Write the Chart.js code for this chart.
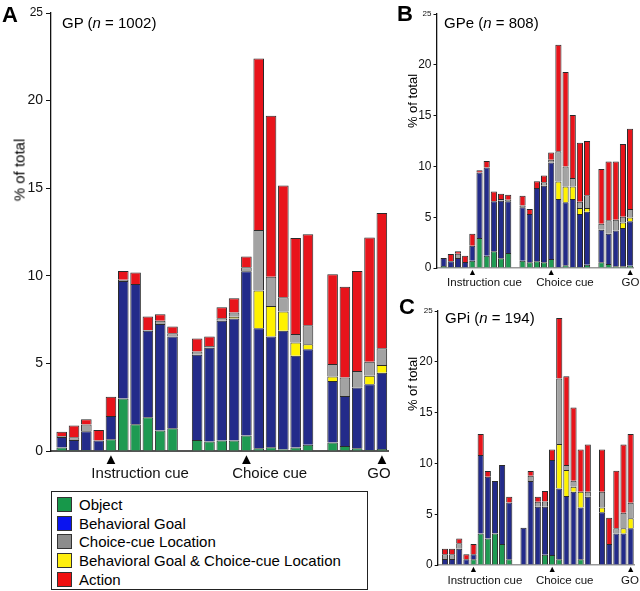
<!DOCTYPE html>
<html lang="en">
<head>
<meta charset="UTF-8">
<meta name="viewport" content="width=device-width, initial-scale=1.0">
<title>GP / GPe / GPi selectivity over time</title>
<script src="https://cdn.jsdelivr.net/npm/chart.js@4.4.3/dist/chart.umd.min.js"></script>
<style>
  body { margin: 0; background: #fff; font-family: 'Liberation Sans', Arial, sans-serif; color: #000; }
  #fig { position: relative; width: 640px; height: 591px; overflow: hidden; }
  canvas { position: absolute; }
  #cA { left: 0; top: 0; }
  #cB { left: 395px; top: 0; }
  #cC { left: 395px; top: 296px; }
  .letter { position: absolute; font-weight: bold; font-size: 22px; line-height: 1; }
  .sub { position: absolute; font-size: 15px; line-height: 1; white-space: nowrap; }
  .ytitle { position: absolute; font-size: 15px; line-height: 1; white-space: nowrap; color: #000; transform: translate(-50%, -50%) rotate(-90deg); }
  .ytitle.small { font-size: 13px; }
  #legend { position: absolute; left: 51px; top: 491px; width: 317px; height: 99px; border: 1.5px solid #222; box-sizing: border-box; padding-top: 3px; }
  .row { height: 18.8px; display: flex; align-items: center; font-size: 15px; }
  .sw { width: 15px; height: 15px; border: 1px solid #333; margin-left: 5px; margin-right: 7px; box-sizing: border-box; }
</style>
</head>
<body>
<div id="fig">
  <canvas id="cA" width="395" height="486"></canvas>
  <canvas id="cB" width="245" height="290"></canvas>
  <canvas id="cC" width="245" height="295"></canvas>

  <div class="letter" style="left:2px;top:4px">A</div>
  <div class="sub" style="left:62px;top:15px">GP (<i>n</i> = 1002)</div>
  <div class="ytitle" style="left:19px;top:170px">% of total</div>

  <div class="letter" style="left:397px;top:3px">B</div>
  <div class="sub" style="left:444px;top:15px">GPe (<i>n</i> = 808)</div>
  <div class="ytitle small" style="left:412px;top:101px">% of total</div>

  <div class="letter" style="left:399px;top:296px">C</div>
  <div class="sub" style="left:445px;top:310px">GPi (<i>n</i> = 194)</div>
  <div class="ytitle small" style="left:412px;top:384px">% of total</div>

  <div id="legend"></div>
</div>

<script>
  // categories, in legend order
  const categories = ['Object', 'Behavioral Goal', 'Choice-cue Location', 'Behavioral Goal & Choice-cue Location', 'Action'];
  const barColors = ['#1e9a52', '#232b8a', '#a3a3a3', '#fff200', '#e8141b'];
  const legendColors = ['#17984a', '#0a14f0', '#8c8c8c', '#ffef0f', '#f01010'];
  // yellow sits below gray in every stack
  const stackOrder = [0, 1, 3, 2, 4];

  // 25 time bins on 27 slots (slots 10 and 21 are the empty gaps)
  const binSlots = [0, 1, 2, 3, 4, 5, 6, 7, 8, 9, 11, 12, 13, 14, 15, 16, 17, 18, 19, 20, 22, 23, 24, 25, 26];
  const cueSlots = [4, 15, 26];
  const cueNames = ['Instruction cue', 'Choice cue', 'GO'];

  // GP (n = 1002), % of total
  const gpObject   = [0.2, 0.05, 0.05, 0, 0.67, 3.0, 1.53, 1.93, 1.17, 1.3, 0.63, 0.54, 0.6, 0.6, 0.88, 0.15, 0.22, 0.1, 0.2, 0.35, 0.48, 0.29, 0.15, 0.06, 0.12];
  const gpGoal     = [0.6, 0.58, 1.08, 0.6, 1.33, 6.7, 8.0, 4.93, 6.08, 5.23, 4.86, 5.36, 6.83, 6.96, 9.38, 6.86, 6.31, 6.77, 5.23, 5.46, 3.52, 2.85, 3.47, 3.75, 4.35];
  const gpLocation = [0.05, 0.16, 0.38, 0, 0, 0.07, 0, 0.05, 0.19, 0.19, 0.19, 0.1, 0.15, 0.24, 0.23, 3.46, 1.67, 0.82, 0.49, 1.08, 0.72, 1.05, 0.95, 0.8, 0.96];
  const gpBoth     = [0, 0, 0, 0, 0, 0, 0, 0, 0, 0, 0, 0, 0, 0.1, 0, 2.15, 1.75, 1.09, 0.76, 0.29, 0.25, 0, 0, 0.48, 0.44];
  const gpAction   = [0.25, 0.66, 0.3, 0.6, 1.1, 0.5, 0.66, 0.76, 0.37, 0.38, 0.74, 0.53, 0.63, 0.82, 0.61, 9.79, 9.19, 6.37, 5.48, 5.19, 5.12, 5.19, 5.71, 7.1, 7.72];

  // GPe (n = 808)
  const gpeObject   = [0.2, 0.1, 0.1, 0, 0.72, 2.95, 1.21, 1.64, 0.95, 1.48, 0.72, 0.56, 0.66, 0.56, 0.89, 0.1, 0.26, 0.1, 0.1, 0.33, 0.56, 0.39, 0.16, 0.16, 0.23];
  const gpeGoal     = [0.78, 0.56, 0.88, 0.59, 1.48, 6.46, 8.69, 4.92, 5.67, 5.08, 5.25, 4.75, 7.21, 7.54, 9.5, 6.69, 6.2, 6.69, 5.21, 5.21, 3.21, 2.99, 3.54, 3.77, 4.36];
  const gpeLocation = [0, 0, 0.43, 0, 0, 0, 0, 0, 0.17, 0.16, 0.19, 0, 0, 0.33, 0.27, 2.96, 1.97, 0.82, 0.62, 1.25, 0.59, 1.31, 1.05, 0.56, 0.82];
  const gpeBoth     = [0, 0, 0, 0, 0, 0, 0, 0, 0, 0, 0, 0, 0, 0, 0, 1.73, 1.57, 1.24, 0.59, 0.36, 0, 0, 0, 0.56, 0.39];
  const gpeAction   = [0, 0.72, 0.23, 0.62, 1.18, 0.2, 0.62, 0.98, 0.52, 0.49, 0.95, 0.49, 0.66, 0.68, 0.72, 10.49, 9.28, 6.2, 5.81, 5.34, 5.38, 5.8, 5.74, 7.15, 7.9];

  // GPi (n = 194)
  const gpiObject   = [0, 0, 0, 0, 0.56, 3.11, 2.62, 3.11, 2.07, 0.56, 0, 0, 0, 1.0, 0.98, 0.56, 0, 0, 0.56, 0, 0, 0, 0, 0, 0];
  const gpiGoal     = [0.59, 0.59, 1.61, 0.56, 0.49, 7.71, 6.07, 5.15, 7.77, 5.6, 3.67, 8.26, 5.74, 4.74, 9.35, 6.98, 6.79, 7.21, 5.11, 6.72, 5.18, 2.07, 3.11, 3.11, 3.61];
  const gpiLocation = [0.46, 0.46, 0.52, 0, 0, 0, 0, 0, 0, 0, 0, 0.53, 0.49, 0.5, 0, 6.46, 0.5, 0.59, 0, 0.49, 1.54, 0, 0.5, 1.54, 1.54];
  const gpiBoth     = [0, 0, 0, 0, 0, 0, 0, 0, 0, 0, 0, 0, 0, 0, 0, 4.36, 2.55, 0.49, 1.54, 0, 0.49, 0, 0, 0.5, 0.98];
  const gpiAction   = [0.56, 0.56, 0.49, 0.49, 1.02, 2.07, 0.56, 0, 0, 0.56, 0, 0.46, 0.49, 1.05, 1.05, 5.95, 8.75, 7.21, 4.17, 4.66, 4.17, 2.59, 5.67, 6.72, 6.76];

  Chart.defaults.font.family = "'Liberation Sans', Arial, sans-serif";

  // per-panel layout only
  const panels = [
    { id: 'cA', series: [gpObject, gpGoal, gpLocation, gpBoth, gpAction],
      xMin: -0.87, top: 13, right: 7, bottom: 1, yWidth: 51, arrowH: 14, labelH: 20,
      labelPos: [6.37, 16.89, 25.76], tickFont: 14, topTickFont: 12, arrowFont: 15, labelFont: 15,
      tickLen: 5, tickPad: 3, arrowPad: 1.5, labelPad: 1.5, baseColor: '#555', baseWidth: 2 },
    { id: 'cB', series: [gpeObject, gpeGoal, gpeLocation, gpeBoth, gpeAction],
      xMin: -1.0, top: 14, right: 6.3, bottom: 0, yWidth: 41.5, arrowH: 9, labelH: 13,
      labelPos: [5.69, 16.92, 26.05], tickFont: 12, topTickFont: 8, arrowFont: 9, labelFont: 11.5,
      tickLen: 3, tickPad: 2, arrowPad: 0, labelPad: 0, baseColor: '#999', baseWidth: 1.5 },
    { id: 'cC', series: [gpiObject, gpiGoal, gpiLocation, gpiBoth, gpiAction],
      xMin: -1.02, top: 15, right: 5.3, bottom: 2, yWidth: 42.7, arrowH: 9, labelH: 15,
      labelPos: [5.59, 16.76, 25.9], tickFont: 12, topTickFont: 8, arrowFont: 9, labelFont: 11.5,
      tickLen: 3, tickPad: 2, arrowPad: 0.5, labelPad: 1, baseColor: '#999', baseWidth: 1.5 }
  ];

  panels.forEach(p => {
    const datasets = stackOrder.map(k => ({
      label: categories[k],
      data: p.series[k].map((v, i) => ({ x: binSlots[i], y: v })),
      backgroundColor: barColors[k],
      borderColor: '#2a2a2a',
      borderWidth: 1,
      barPercentage: 0.86,
      categoryPercentage: 1
    }));

    new Chart(document.getElementById(p.id), {
      type: 'bar',
      data: { datasets },
      options: {
        responsive: false,
        animation: false,
        layout: { padding: { left: 0, top: p.top, right: p.right, bottom: p.bottom } },
        plugins: { legend: { display: false }, tooltip: { enabled: false } },
        scales: {
          // cue arrows
          x: {
            type: 'linear', stacked: true, offset: false, bounds: 'data', min: p.xMin, max: 26.5,
            afterBuildTicks: s => { s.ticks = cueSlots.map(v => ({ value: v })); },
            afterFit: s => { s.height = p.arrowH; },
            grid: { display: false, drawTicks: false },
            border: { color: p.baseColor, width: p.baseWidth },
            ticks: { autoSkip: false, maxRotation: 0, minRotation: 0, padding: p.arrowPad, color: '#000',
                     font: { size: p.arrowFont, lineHeight: 1 }, callback: () => '▲' }
          },
          // cue names
          xl: {
            type: 'linear', position: 'bottom', weight: 1, offset: false, bounds: 'data', min: p.xMin, max: 26.5,
            afterBuildTicks: s => { s.ticks = p.labelPos.map(v => ({ value: v })); },
            afterFit: s => { s.height = p.labelH; },
            grid: { display: false, drawTicks: false },
            border: { display: false },
            ticks: { autoSkip: false, maxRotation: 0, minRotation: 0, padding: p.labelPad, color: '#111',
                     font: { size: p.labelFont, lineHeight: 1 }, callback: (v, i) => cueNames[i] }
          },
          y: {
            stacked: true, min: 0, max: 25,
            afterFit: s => { s.width = p.yWidth; },
            grid: { drawOnChartArea: false, drawTicks: true, tickLength: p.tickLen, color: '#111' },
            border: { color: '#111', width: 1.3 },
            ticks: { stepSize: 5, padding: p.tickPad, color: '#111',
                     font: ctx => ({ size: ctx.tick && ctx.tick.value === 25 ? p.topTickFont : p.tickFont }) }
          }
        }
      }
    });
  });

  // shared legend box
  const legend = document.getElementById('legend');
  categories.forEach((name, k) => {
    const row = document.createElement('div');
    row.className = 'row';
    row.innerHTML = '<span class="sw" style="background:' + legendColors[k] + '"></span><span>' + name + '</span>';
    legend.appendChild(row);
  });
</script>
</body>
</html>
